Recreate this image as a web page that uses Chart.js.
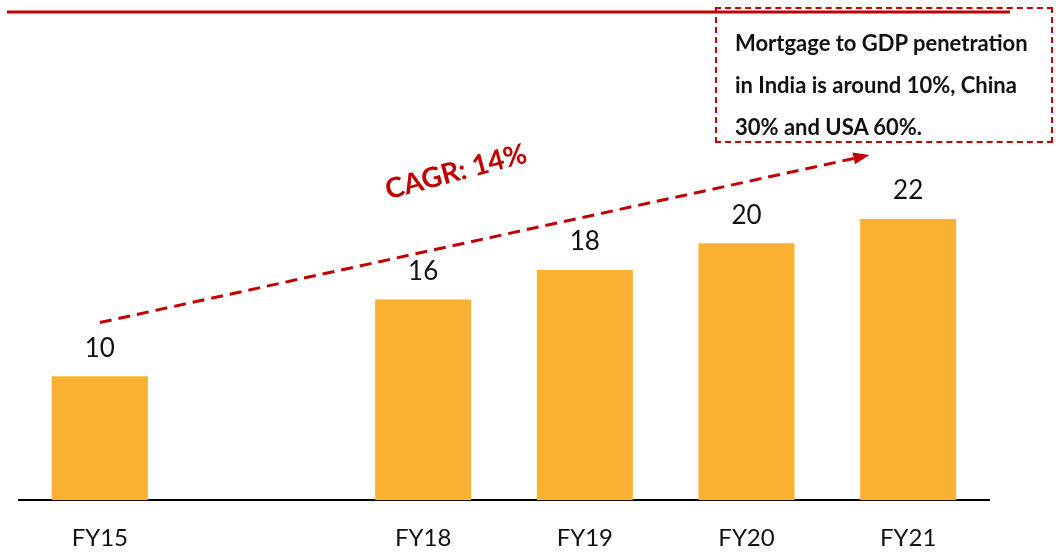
<!DOCTYPE html>
<html>
<head>
<meta charset="utf-8">
<script src="https://cdn.jsdelivr.net/npm/chart.js@4.4.0/dist/chart.umd.min.js"></script>
<style>
  body { margin: 0; background: #fff; }
  #wrap { position: relative; width: 1056px; height: 559px; overflow: hidden; }
  #note {
    position: absolute; left: 715px; top: 7px; width: 334px; height: 132px;
    border: 2px dashed #c00000; box-sizing: content-box;
    font-family: Lato, sans-serif; font-weight: bold; font-size: 22px;
    line-height: 42px; color: #111; padding: 0;
  }
  #note div { padding: 13px 0 0 18px; white-space: nowrap; }
</style>
</head>
<body>
<div id="wrap">
  <canvas id="chart" width="1056" height="584"></canvas>
  <div id="note"><div>Mortgage to GDP penetration<br>in India is around 10%, China<br>30% and USA 60%.</div></div>
</div>
<script>
// categories (second slot is an empty gap in the source chart)
const years = ['FY15', '', 'FY18', 'FY19', 'FY20', 'FY21'];
const loans = [9.7, null, 15.7, 18.0, 20.1, 22.0];
const cagrText = 'CAGR: 14%';

const red = '#c00000';
const barColor = '#FAB032';

// value labels above bars + top rule + CAGR arrow
const extras = {
  id: 'extras',
  beforeDraw(chart) {
    const ctx = chart.ctx;
    ctx.save();
    ctx.strokeStyle = red;
    ctx.lineWidth = 3;
    ctx.beginPath();
    ctx.moveTo(7, 12);
    ctx.lineTo(1010, 12);
    ctx.stroke();
    ctx.restore();
  },
  afterDatasetsDraw(chart) {
    const ctx = chart.ctx;
    const meta = chart.getDatasetMeta(0);
    ctx.save();
    ctx.fillStyle = '#111';
    ctx.font = '26px Lato, sans-serif';
    ctx.textAlign = 'center';
    ctx.textBaseline = 'middle';
    meta.data.forEach((bar, i) => {
      if (loans[i] == null) return;
      ctx.fillText(Math.round(loans[i]), bar.x, bar.y - 28);
    });

    // CAGR arrow, anchored to the scales
    const xs = chart.scales.x, ys = chart.scales.y;
    const slot = xs.getPixelForValue(1) - xs.getPixelForValue(0);
    const x1 = xs.getPixelForValue(0), y1 = ys.getPixelForValue(13.9);
    const x2 = xs.getPixelForValue(5) - slot * 0.24, y2 = ys.getPixelForValue(27.0);
    const ang = Math.atan2(y2 - y1, x2 - x1);
    const head = 16;
    ctx.strokeStyle = red;
    ctx.fillStyle = red;
    ctx.lineWidth = 3;
    ctx.setLineDash([12, 7]);
    ctx.beginPath();
    ctx.moveTo(x1, y1);
    ctx.lineTo(x2 - head * Math.cos(ang), y2 - head * Math.sin(ang));
    ctx.stroke();
    ctx.setLineDash([]);
    ctx.beginPath();
    ctx.moveTo(x2, y2);
    ctx.lineTo(x2 - head * Math.cos(ang) + 6 * Math.sin(ang), y2 - head * Math.sin(ang) - 6 * Math.cos(ang));
    ctx.lineTo(x2 - head * Math.cos(ang) - 6 * Math.sin(ang), y2 - head * Math.sin(ang) + 6 * Math.cos(ang));
    ctx.closePath();
    ctx.fill();

    ctx.translate(456, 172);
    ctx.rotate(-15 * Math.PI / 180);
    ctx.font = 'bold 28px Lato, sans-serif';
    ctx.fillText(cagrText, 0, 0);
    ctx.restore();
  }
};

new Chart(document.getElementById('chart').getContext('2d'), {
  type: 'bar',
  data: {
    labels: years,
    datasets: [{
      data: loans,
      backgroundColor: barColor,
      barPercentage: 0.594,
      categoryPercentage: 1
    }]
  },
  options: {
    responsive: false,
    animation: false,
    layout: { padding: { left: 19, right: 67, top: 40, bottom: 7 } },
    plugins: { legend: { display: false }, tooltip: { enabled: false } },
    scales: {
      x: {
        grid: { display: false, drawTicks: false },
        border: { display: true, color: '#000', width: 2 },
        ticks: { color: '#111', font: { family: 'Lato, sans-serif', size: 24 }, padding: 24 }
      },
      y: {
        display: false,
        min: 0,
        max: 36
      }
    }
  },
  plugins: [extras]
});
</script>
</body>
</html>
